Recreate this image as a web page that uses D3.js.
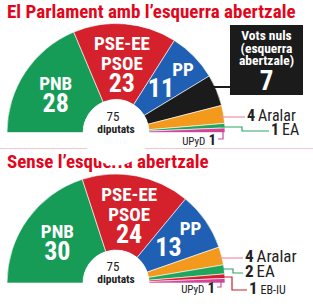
<!DOCTYPE html>
<html>
<head>
<meta charset="utf-8">
<script src="https://cdnjs.cloudflare.com/ajax/libs/d3/7.8.5/d3.min.js"></script>
<style>
  body { margin: 0; background: #fff; }
  text { font-family: "Liberation Sans Narrow", "Roboto Condensed", Roboto, sans-serif; }
</style>
</head>
<body>
<div id="chart"></div>
<script>
// seats, 75 total in each hemicycle
var partiesA = ["PNB", "PSE-EE PSOE", "PP", "Vots nuls", "Aralar", "EA", "UPyD"];
var seatsA   = [28, 23, 11, 7, 4, 1, 1];

var partiesB = ["PNB", "PSE-EE PSOE", "PP", "Aralar", "EA", "EB-IU", "UPyD"];
var seatsB   = [30, 24, 13, 4, 2, 1, 1];

var titles = ["El Parlament amb l\u2019esquerra abertzale", "Sense l\u2019esquerra abertzale"];
var total = "75";
var totalLabel = "diputats";
var nulsLines = ["Vots nuls", "(esquerra", "abertzale)"];

var width = 313, height = 308;
var red = "#e2061b";

var color = {
  "PNB": "#169c57",
  "PSE-EE PSOE": "#d5212b",
  "PP": "#1f5fb4",
  "Vots nuls": "#1b1b1b",
  "Aralar": "#f39a1d",
  "EA": "#1fa55c",
  "EB-IU": "#d81f2e",
  "UPyD": "#d1449a"
};
var lineColor = { "Aralar": "#ec8fa3", "EA": "#2aa866", "UPyD": "#c8489a", "EB-IU": "#c81e2c", "Vots nuls": "#1b1b1b" };

var svg = d3.select("#chart").append("svg")
  .attr("width", width)
  .attr("height", height);

var cx = 116, R = 109, r0 = 33;

var pie = d3.pie().sort(null)
  .startAngle(-Math.PI / 2).endAngle(Math.PI / 2)
  .value(function(d) { return d.seats; });

var arc = d3.arc().innerRadius(r0).outerRadius(R);
var labelArc = d3.arc().innerRadius(70).outerRadius(70);

// title + separator
svg.append("text").attr("x", 7).attr("y", 18)
  .attr("fill", red).style("font-weight", "bold").style("font-size", "19px")
  .text(titles[0]);
svg.append("line").attr("x1", 0).attr("x2", width).attr("y1", 148.5).attr("y2", 148.5)
  .attr("stroke", "#f3c6ce").attr("stroke-width", 1.2);
svg.append("text").attr("x", 7).attr("y", 168)
  .attr("fill", red).style("font-weight", "bold").style("font-size", "19px")
  .text(titles[1]);

function drawChart(parties, seats, cy, outside) {
  var data = parties.map(function(p, i) { return { party: p, seats: seats[i] }; });
  var g = svg.append("g").attr("transform", "translate(" + cx + "," + cy + ")");
  var arcs = pie(data);

  g.selectAll("path.seg").data(arcs).enter().append("path")
    .attr("class", "seg")
    .attr("d", arc)
    .attr("fill", function(d) { return color[d.data.party]; })
    .attr("stroke", "#fff")
    .attr("stroke-width", 0.6);

  // centre
  g.append("circle").attr("r", r0).attr("fill", "#fff");
  g.append("text").attr("text-anchor", "middle").attr("x", -3).attr("y", -12)
    .style("font-size", "13px").attr("fill", "#222").text(total);
  g.append("text").attr("text-anchor", "middle").attr("x", 0).attr("y", 0)
    .style("font-size", "11.5px").style("font-weight", "bold").attr("fill", "#222").text(totalLabel);

  // inside labels
  arcs.slice(0, 3).forEach(function(d) {
    var c = labelArc.centroid(d);
    var names = d.data.party.split(" ");
    var t = g.append("g").attr("fill", "#fff").style("font-weight", "bold").attr("text-anchor", "middle");
    if (d.data.party == "PP") {
      t.append("text").attr("x", c[0] + 17).attr("y", c[1] - 8).style("font-size", "19px").text("PP");
      t.append("text").attr("x", c[0] - 5).attr("y", c[1] + 13).style("font-size", "26px").text(d.data.seats);
    } else if (names.length == 2) {
      t.append("text").attr("x", c[0]).attr("y", c[1] - 13).style("font-size", "19px").text(names[0]);
      t.append("text").attr("x", c[0]).attr("y", c[1] + 7).style("font-size", "19px").text(names[1]);
      t.append("text").attr("x", c[0]).attr("y", c[1] + 29).style("font-size", "26px").text(d.data.seats);
    } else {
      t.append("text").attr("x", c[0] - 2).attr("y", c[1] - 4).style("font-size", "19px").text(names[0]);
      t.append("text").attr("x", c[0] - 2).attr("y", c[1] + 18).style("font-size", "26px").text(d.data.seats);
    }
  });

  // outside labels with connectors
  arcs.slice(3).forEach(function(d) {
    var o = outside[d.data.party];
    var p = d.data.party;
    if (o.left) {
      g.append("path")
        .attr("d", "M" + (o.x - cx) + "," + (o.y0 - cy) + "V" + (o.ty - cy) + "H" + (o.tx - cx))
        .attr("fill", "none").attr("stroke", lineColor[p]).attr("stroke-width", 1.2);
      var num = g.append("text").attr("text-anchor", "end").attr("x", o.tx - 2 - cx).attr("y", o.ty + 6 - cy)
        .attr("fill", "#222").style("font-size", "15px").style("font-weight", "bold").text(d.data.seats);
      var nw = num.node().getComputedTextLength();
      g.append("text").attr("text-anchor", "end").attr("x", o.tx - 2 - cx - nw - 3).attr("y", o.ty + 6 - cy)
        .attr("fill", "#222").style("font-size", "11px").text(p);
      return;
    }
    var x0 = Math.sqrt(R * R - (cy - o.y0) * (cy - o.y0)) - 4;
    var ty = o.ty == null ? o.y0 : o.ty;
    var tx = o.tx == null ? o.ex : o.tx;
    g.append("path")
      .attr("d", "M" + x0 + "," + (o.y0 - cy) + "H" + (o.ex - cx) + "V" + (ty - cy) + "H" + (tx - cx))
      .attr("fill", "none").attr("stroke", lineColor[p]).attr("stroke-width", p == "Vots nuls" ? 2 : 1.2);
    if (p == "Vots nuls") {
      var bw = 73, bh = 70;
      g.append("rect").attr("x", tx - cx).attr("y", o.by - cy).attr("width", bw).attr("height", bh)
        .attr("fill", "#1b1b1b");
      var bt = g.append("g").attr("fill", "#fff").attr("text-anchor", "middle").style("font-weight", "bold");
      nulsLines.forEach(function(l, i) {
        bt.append("text").attr("x", tx - cx + bw / 2).attr("y", o.by - cy + 15 + i * 12.5)
          .style("font-size", "13.5px").text(l);
      });
      bt.append("text").attr("x", tx - cx + bw / 2).attr("y", o.by - cy + 65)
        .style("font-size", "27px").text(d.data.seats);
      return;
    }
    var big = cy > 200 ? "17px" : "16px";
    var n = g.append("text").attr("x", tx + 2 - cx).attr("y", ty + 4 - cy).attr("fill", "#222")
      .style("font-size", big).style("font-weight", "bold").text(d.data.seats);
    var w = n.node().getComputedTextLength();
    g.append("text").attr("x", tx + 2 - cx + w + 3).attr("y", ty + 4 - cy).attr("fill", "#222")
      .style("font-size", p == "EB-IU" ? "12px" : big).text(p);
  });
}

drawChart(partiesA, seatsA, 132.5, {
  "Vots nuls": { y0: 87, ex: 230, by: 25 },
  "Aralar": { y0: 117, ex: 245 },
  "EA": { y0: 127, ex: 242, ty: 131, tx: 269 },
  "UPyD": { left: true, x: 223, y0: 131, ty: 139, tx: 218 }
});

drawChart(partiesB, seatsB, 283, {
  "Aralar": { y0: 258, ex: 243 },
  "EA": { y0: 269, ex: 233, ty: 273, tx: 243 },
  "EB-IU": { y0: 277, ex: 232, ty: 290, tx: 247 },
  "UPyD": { left: true, x: 221, y0: 282, ty: 287, tx: 217 }
});
</script>
</body>
</html>
